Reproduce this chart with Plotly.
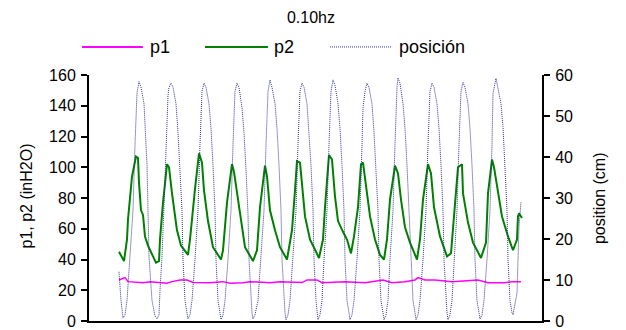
import plotly.graph_objects as go

# ---- data (time in samples) ----
p1_t = [0, 3, 6, 9, 24, 31, 48, 53, 61, 68, 74, 91, 104, 111, 124, 131, 151, 161,
        178, 183, 188, 198, 203, 226, 246, 264, 273, 286, 296, 299, 306, 316, 333,
        353, 359, 369, 386, 393, 402]
p1_v = [26.7, 27.5, 28.2, 25.6, 24.9, 25.6, 24.5, 25.6, 26.7, 26.7, 25.0, 24.9, 25.6,
        24.5, 24.9, 25.6, 24.9, 25.6, 24.9, 25.0, 26.7, 26.7, 24.9, 25.6, 24.9, 26.7,
        24.9, 25.6, 26.7, 28.2, 26.7, 26.7, 25.6, 26.7, 26.7, 24.9, 24.9, 25.6, 25.6]

p2_t = [0, 3, 5, 8, 9, 13, 17, 19, 20, 22, 24, 26, 29, 34, 37, 40, 41, 44, 48, 50,
        53, 58, 62, 69, 71, 76, 80, 83, 85, 89, 94, 102, 104, 108, 113, 115, 118, 121,
        126, 134, 138, 141, 146, 148, 151, 156, 161, 168, 173, 176, 178, 181, 183, 186,
        191, 200, 204, 206, 210, 213, 216, 219, 224, 228, 232, 235, 239, 242, 244, 247,
        251, 256, 261, 265, 268, 271, 276, 279, 282, 286, 291, 298, 301, 304, 309, 312,
        315, 321, 328, 332, 335, 339, 343, 344, 349, 354, 362, 367, 369, 373, 375, 379,
        383, 389, 394, 398, 399, 400, 403]
p2_v = [45, 41, 39, 53, 66, 94, 107, 106, 90, 72, 69, 55, 49, 42, 38, 39, 53, 77, 102, 100,
        83, 59, 49, 43, 53, 86, 109, 103, 85, 65, 48, 40, 46, 77, 102, 97, 84, 68,
        48, 39, 46, 74, 101, 94, 72, 59, 48, 40, 59, 85, 104, 103, 87, 68,
        53, 41, 53, 74, 108, 105, 81, 65, 58, 53, 44, 55, 74, 102, 103, 87,
        68, 53, 43, 40, 53, 79, 101, 96, 79, 61, 51, 40, 53, 79, 102, 96,
        74, 55, 42, 44, 68, 100, 102, 83, 64, 51, 41, 51, 83, 105, 100, 85,
        68, 55, 46, 53, 68, 70, 67]

pos_t = [0, 2, 4, 6,
         8, 11, 14, 16, 17, 18, 20, 22, 25, 27, 28, 29, 30, 33, 36, 38,
         40, 41, 43, 45, 47, 48, 49, 50, 52, 54, 57, 59, 61, 63, 64, 66, 68, 69,
         71, 73, 76, 79, 81, 82, 83, 85, 87, 90, 92, 94, 96, 97, 99, 101, 102,
         104, 106, 109, 112, 114, 115, 116, 118, 120, 123, 125, 127, 129, 130, 132, 133, 134,
         136, 139, 142, 145, 147, 148, 149, 151, 153, 156, 158, 160, 162, 163, 165, 166, 167,
         169, 171, 174, 177, 179, 180, 181, 183, 185, 188, 190, 192, 194, 195, 197, 198, 199,
         201, 203, 205, 208, 210, 211, 212, 214, 216, 219, 221, 223, 225, 226, 228, 230, 231,
         233, 235, 238, 241, 243, 244, 246, 248, 250, 253, 255, 257, 259, 260, 262, 264, 265,
         267, 269, 271, 274, 276, 277, 278, 279, 281, 284, 286, 288, 290, 292, 294, 296, 297,
         299, 301, 304, 307, 309, 310, 311, 313, 315, 318, 320, 322, 324, 325, 327, 328, 329,
         331, 333, 335, 338, 340, 341, 342, 344, 346, 349, 351, 353, 355, 356, 358, 360, 361,
         363, 365, 368, 371, 373, 374, 377, 379, 382, 384, 386, 388, 389, 391, 393, 394,
         398, 400, 402]
pos_v = [12, 5, 0.7, 1.5,
         5, 15, 27, 43, 52, 55.6, 58.4, 57, 53, 45, 38, 27, 15.7, 5, 1.2, 0.5,
         1.5, 7.5, 15.7, 28, 40, 50, 55, 57, 58, 57, 53, 46, 37, 27, 15, 5, 2, 0.5,
         1.5, 5, 15, 27, 43, 53, 56, 58, 57, 53, 47, 38, 27, 15, 5, 2, 0.4,
         1.5, 5, 15, 27, 43, 53, 56, 58, 57, 52, 46, 37, 26, 15, 5, 2, 0.5,
         1.5, 5, 15, 27, 43, 53, 56, 58.8, 57, 53, 47, 38, 27, 15, 5, 2, 0.3,
         1.5, 5, 15, 27, 43, 53, 56, 58, 57, 53, 46, 38, 27, 15, 5, 2, 0.3,
         1.5, 5, 15, 27, 43, 52, 56, 58.8, 57.5, 53, 47, 38, 27, 15, 5, 2, 0.3,
         1.5, 5, 15, 27, 43, 52, 56, 58, 57, 53, 46, 37, 27, 15, 5, 2, 0.3,
         1.5, 5, 15, 27, 43, 53, 57, 59.3, 58, 53, 47, 38, 27, 15, 5, 2, 0.3,
         1.5, 5, 15, 27, 43, 52, 56, 58, 57, 53, 47, 38, 27, 15, 5, 2, 0.3,
         1.5, 5, 15, 27, 43, 53, 56, 58.2, 57, 53, 47, 38, 27, 15, 5, 2, 0.5,
         1.5, 5, 15, 27, 43, 55.5, 59.2, 57, 53, 47.4, 37.6, 27, 15, 5, 2, 1.5,
         6.8, 23, 29]

names = ["p1", "p2", "posición"]
colors = ["#FF00FF", "#008000", "#333399"]
axis_titles = ["p1, p2 (inH2O)", "position (cm)"]
chart_title = "0.10hz"

FONT = "Liberation Sans, Arial, sans-serif"
FS = 16

fig = go.Figure()
fig.add_trace(go.Scatter(x=p1_t, y=p1_v, mode="lines", name=names[0],
                         line=dict(color=colors[0], width=1.5), yaxis="y"))
fig.add_trace(go.Scatter(x=p2_t, y=p2_v, mode="lines", name=names[1],
                         line=dict(color=colors[1], width=2), yaxis="y"))
fig.add_trace(go.Scatter(x=pos_t, y=pos_v, mode="lines", name=names[2],
                         line=dict(color=colors[2], width=1, dash="1px,1px"), yaxis="y2"))

# manual legend (long line samples like the original)
leg_y = 1.114
leg_lines = [(-0.0155, 0.119), (0.256, 0.395), (0.532, 0.669)]
leg_text_x = [0.130, 0.404, 0.680]
shapes = []
annotations = []
for (x0, x1), tx, nm, col, i in zip(leg_lines, leg_text_x, names, colors, range(3)):
    shapes.append(dict(type="line", xref="paper", yref="paper", x0=x0, x1=x1,
                       y0=leg_y, y1=leg_y,
                       line=dict(color=col, width=2 if i < 2 else 1,
                                 dash="solid" if i < 2 else "1px,1px")))
    annotations.append(dict(text=nm, xref="paper", yref="paper", x=tx, y=leg_y,
                            xanchor="left", yanchor="middle", showarrow=False,
                            font=dict(family=FONT, size=18, color="black")))

# axis titles as rotated annotations
annotations.append(dict(text=axis_titles[0], xref="paper", yref="paper",
                        x=-0.137, y=0.51, textangle=-90, showarrow=False,
                        xanchor="center", yanchor="middle",
                        font=dict(family=FONT, size=FS, color="black")))
annotations.append(dict(text=axis_titles[1], xref="paper", yref="paper",
                        x=1.126, y=0.50, textangle=-90, showarrow=False,
                        xanchor="center", yanchor="middle",
                        font=dict(family=FONT, size=FS, color="black")))

fig.update_layout(
    width=626, height=330,
    margin=dict(l=89, r=84, t=75, b=9, autoexpand=False),
    paper_bgcolor="white", plot_bgcolor="white",
    font=dict(family=FONT, size=FS, color="black"),
    showlegend=False,
    title=dict(text=chart_title, x=0.49, xref="paper", xanchor="center",
               y=1 - 17 / 330, yref="container", yanchor="middle",
               font=dict(family=FONT, size=FS, color="black")),
    xaxis=dict(range=[-30, 423], showline=True, linecolor="black", linewidth=2,
               showticklabels=False, ticks="", showgrid=False, zeroline=False,
               automargin=False),
    yaxis=dict(range=[0, 160], dtick=20, tick0=0, ticks="outside", ticklen=6,
               tickwidth=2, tickcolor="black", showline=True, linecolor="black",
               linewidth=2, showgrid=False, zeroline=False, ticklabeloverflow="allow",
               automargin=False, ticklabelstandoff=2),
    yaxis2=dict(range=[0, 60], dtick=10, tick0=0, overlaying="y", side="right",
                ticks="outside", ticklen=6, tickwidth=2, tickcolor="black",
                showline=True, linecolor="black", linewidth=2, showgrid=False,
                zeroline=False, ticklabeloverflow="allow", automargin=False,
                ticklabelstandoff=2),
    yaxis3=dict(range=[0, 60], dtick=10, tick0=0, overlaying="y", side="right",
                ticks="inside", ticklen=5, tickwidth=2, tickcolor="black",
                showline=False, showgrid=False, zeroline=False, showticklabels=False,
                automargin=False),
    shapes=shapes,
    annotations=annotations,
)

fig.write_html("out.html")
